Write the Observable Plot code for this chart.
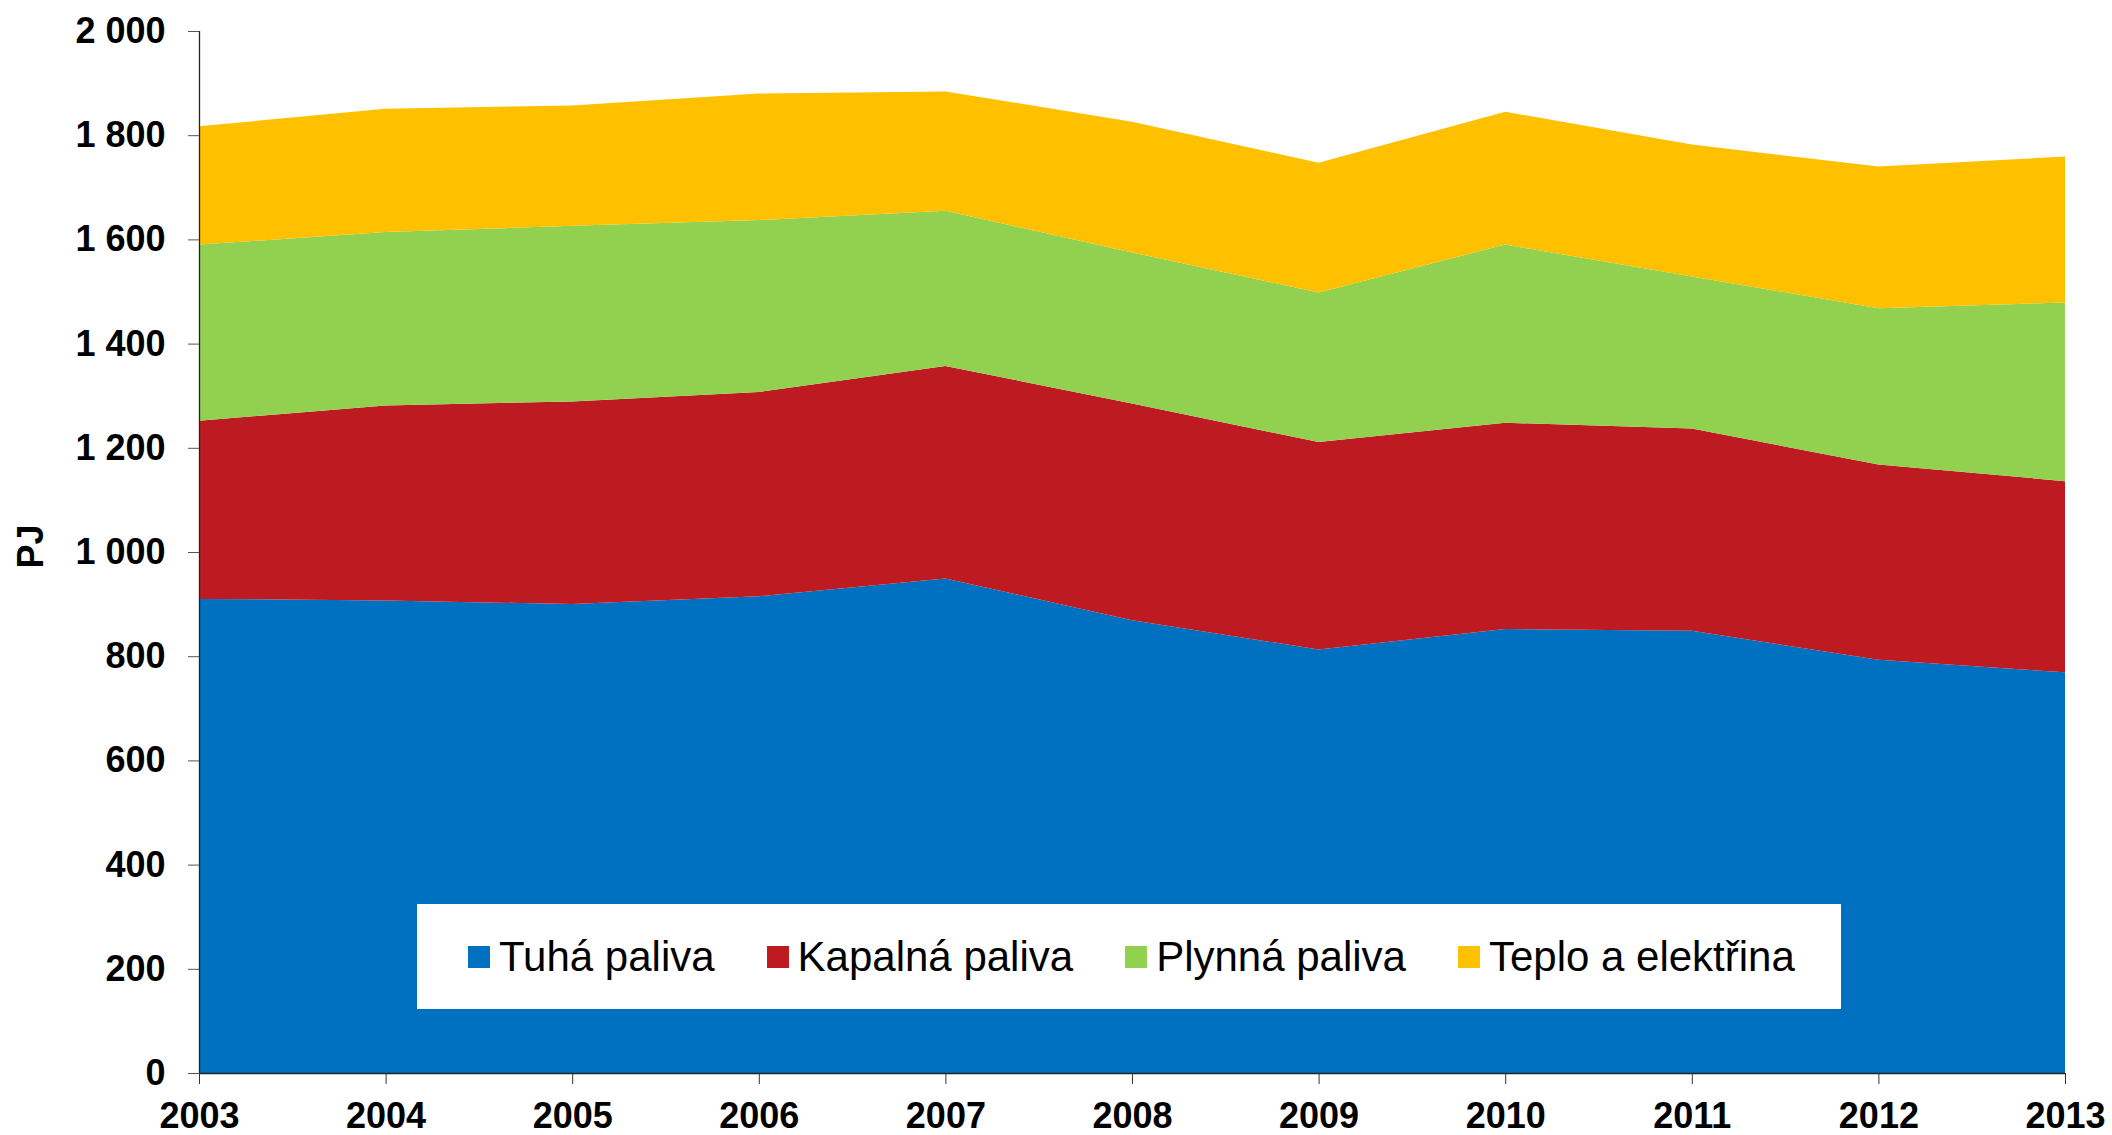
<!DOCTYPE html>
<html>
<head>
<meta charset="utf-8">
<script src="https://cdn.jsdelivr.net/npm/d3@7"></script>
<script src="https://cdn.jsdelivr.net/npm/@observablehq/plot@0.6"></script>
<style>
  html, body { margin: 0; padding: 0; background: #fff; overflow: hidden; }
  #wrap { position: relative; width: 2112px; height: 1135px; font-family: "Liberation Sans", Arial, sans-serif; }
  #legend {
    position: absolute; left: 417px; top: 904px; width: 1424px; height: 105px;
    background: #fff; box-sizing: border-box; padding-left: 51px;
    display: flex; align-items: center; font-size: 42px; color: #000;
    font-family: "Liberation Sans", Arial, sans-serif;
  }
  .item { display: flex; align-items: center; margin-right: 52px; white-space: nowrap; }
  .sw { width: 22px; height: 22px; margin-right: 9px; flex: none; }
</style>
</head>
<body>
<div id="wrap"></div>
<script>
// ---- data ----
const years = [2003, 2004, 2005, 2006, 2007, 2008, 2009, 2010, 2011, 2012, 2013];
const seriesNames = ["Tuhá paliva", "Kapalná paliva", "Plynná paliva", "Teplo a elektřina"];
const tuhaPaliva     = [910, 907, 900, 915, 949, 869, 813, 852, 849, 793, 769];
const kapalnaPaliva  = [342, 374, 389, 392, 408, 416, 398, 396, 388, 375, 367];
const plynnaPaliva   = [338, 333, 337, 330, 298, 290, 287, 342, 292, 300, 343];
const teploElektrina = [227, 237, 231, 243, 229, 251, 249, 255, 253, 272, 280];
const seriesColors = ["#0070C0", "#BD1A22", "#92D050", "#FFC000"];
const yTicks = [0, 200, 400, 600, 800, 1000, 1200, 1400, 1600, 1800, 2000];
const yTickLabels = ["0", "200", "400", "600", "800", "1 000", "1 200", "1 400", "1 600", "1 800", "2 000"];
const xTickLabels = ["2003", "2004", "2005", "2006", "2007", "2008", "2009", "2010", "2011", "2012", "2013"];
const yLabel = "PJ";

const allSeries = [tuhaPaliva, kapalnaPaliva, plynnaPaliva, teploElektrina];
const data = [];
seriesNames.forEach((name, si) => {
  years.forEach((yr, i) => data.push({ year: yr, value: allSeries[si][i], series: name }));
});

const chart = Plot.plot({
  width: 2112,
  height: 1135,
  marginLeft: 199,
  marginRight: 47,
  marginTop: 31,
  marginBottom: 62,
  style: { fontFamily: '"Liberation Sans", Arial, sans-serif', fontSize: "36px", fontWeight: "bold", color: "#000", background: "#fff" },
  x: { type: "linear", domain: [years[0], years[years.length - 1]] },
  y: { domain: [0, 2000] },
  color: { domain: seriesNames, range: seriesColors },
  marks: [
    Plot.areaY(data, { x: "year", y: "value", fill: "series", order: seriesNames, curve: "linear" }),
    Plot.ruleX([years[0]], { stroke: "#222", strokeWidth: 1.3 }),
    Plot.ruleY([0], { stroke: "#222", strokeWidth: 1.3 }),
    Plot.axisY({ ticks: yTicks, tickFormat: (d) => yTickLabels[yTicks.indexOf(d)], tickSize: 11, tickPadding: 23, stroke: "#555", label: null }),
    Plot.axisX({ ticks: years, tickFormat: (d) => xTickLabels[years.indexOf(d)], tickSize: 11, tickPadding: 18, stroke: "#333", label: null }),
    Plot.text([yLabel], { frameAnchor: "left", textAnchor: "middle", lineAnchor: "middle", dx: -168, dy: -6, rotate: -90, fontSize: 36, fontWeight: "bold", fill: "#000" })
  ]
});

const wrap = document.getElementById("wrap");
wrap.appendChild(chart);

const legend = document.createElement("div");
legend.id = "legend";
seriesNames.forEach((name, i) => {
  const item = document.createElement("div");
  item.className = "item";
  const sw = document.createElement("span");
  sw.className = "sw";
  sw.style.background = seriesColors[i];
  const t = document.createElement("span");
  t.textContent = name;
  item.appendChild(sw);
  item.appendChild(t);
  legend.appendChild(item);
});
wrap.appendChild(legend);
</script>
</body>
</html>
